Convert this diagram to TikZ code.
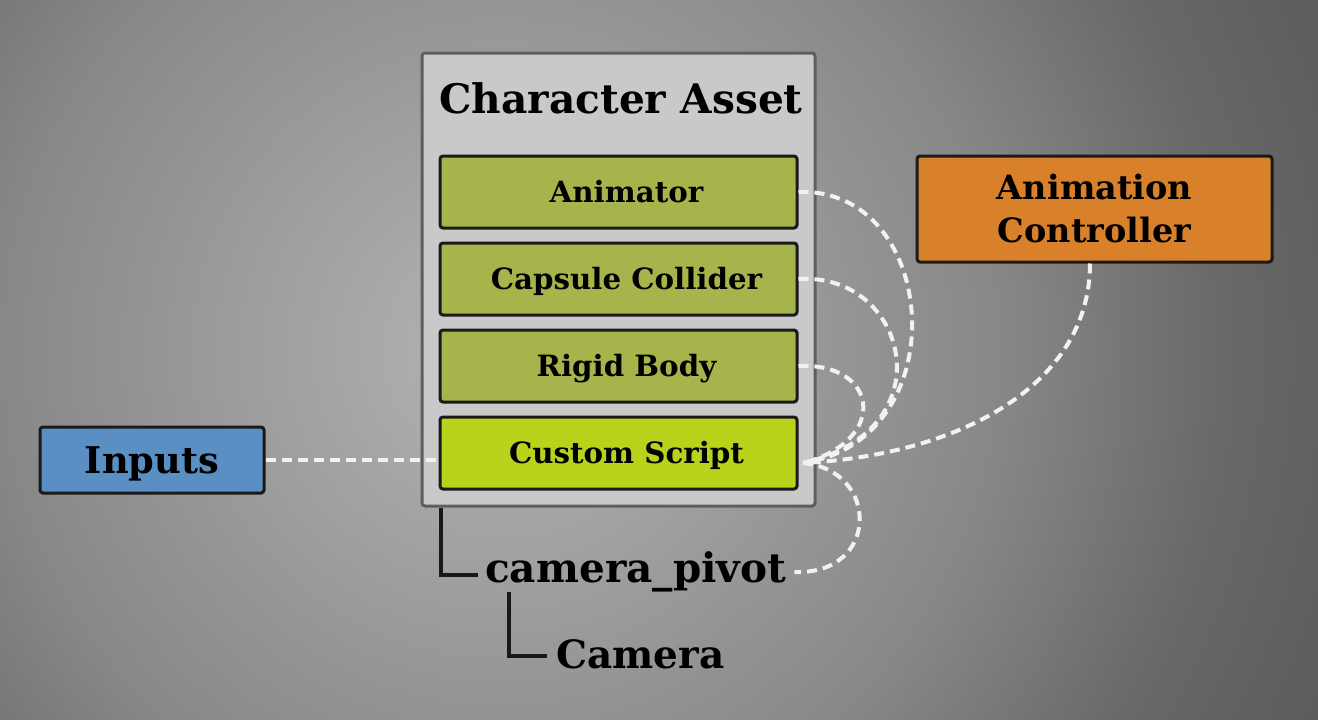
\documentclass[tikz,border=0pt]{standalone}
\usepackage{fontspec}
\setmainfont{DejaVu Serif}
\definecolor{bgc0}{HTML}{B4B4B4}
\definecolor{bgc1}{HTML}{A0A0A0}
\definecolor{bgc2}{HTML}{878787}
\definecolor{bgc3}{HTML}{686868}
\definecolor{bgc4}{HTML}{5C5C5C}
\definecolor{assetfill}{HTML}{C9C9C9}
\definecolor{assetborder}{HTML}{5E5E5E}
\definecolor{boxborder}{HTML}{1A1A1A}
\definecolor{olivefill}{HTML}{A7B44B}
\definecolor{limefill}{HTML}{B9D21B}
\definecolor{orangefill}{HTML}{D9812A}
\definecolor{bluefill}{HTML}{5A8FC3}
\definecolor{dashcol}{HTML}{F2F2F2}
\pgfdeclareradialshading{bgshade}{\pgfpoint{0bp}{0bp}}{color(0bp)=(bgc0); color(6.2bp)=(bgc1); color(14bp)=(bgc2); color(20.2bp)=(bgc3); color(24.9bp)=(bgc4); color(50bp)=(bgc4)}
\begin{document}
\begin{tikzpicture}[x=1pt,y=-1pt,
  assetbox/.style={draw=assetborder, fill=assetfill, line width=3pt, rounded corners=3pt,
    minimum width=393pt, minimum height=453pt, inner sep=0pt},
  comp/.style={draw=boxborder, line width=3pt, rounded corners=3pt, minimum width=357pt,
    minimum height=72pt, inner sep=0pt, font=\fontsize{29.3}{32}\selectfont\bfseries,
    text height=21.4pt, text depth=0pt},
  titletext/.style={inner sep=0pt, font=\fontsize{40.7}{44}\selectfont\bfseries},
  treetext/.style={inner sep=0pt, font=\fontsize{40.6}{44}\selectfont\bfseries},
  link/.style={draw=dashcol, line width=4pt, dash pattern=on 10pt off 6pt},
  tree/.style={draw=black!90, line width=4pt}]
\useasboundingbox (0,0) rectangle (1318,720);
\begin{scope}
  \clip (0,0) rectangle (1318,720);
  \shade[shading=bgshade] (-400,-550) rectangle (1400,1250);
\end{scope}

% container
\node[assetbox] (asset) at (618.5,279.5) {};
\node[titletext, anchor=base] (title) at (621,113) {Character Asset};

\node[comp, fill=olivefill] (anim)  at (618.5,192) {\hspace*{16pt}Animator};
\node[comp, fill=olivefill] (caps)  at (618.5,279) {\hspace*{16pt}Capsule Collider};
\node[comp, fill=olivefill] (rigid) at (618.5,366) {\hspace*{16pt}Rigid Body};
\node[comp, fill=limefill]  (cs)    at (618.5,453) {\hspace*{16pt}Custom Script};

% side boxes
\node[draw=boxborder, fill=orangefill, line width=3pt, rounded corners=3pt,
  minimum width=355pt, minimum height=106pt, inner sep=0pt, align=center,
  font=\fontsize{33.5}{43}\selectfont\bfseries] (ctrl) at (1094.5,209) {Animation\\Controller};
\node[draw=boxborder, fill=bluefill, line width=3pt, rounded corners=3pt,
  minimum width=224pt, minimum height=66pt, inner sep=0pt,
  font=\fontsize{36.8}{38}\selectfont\bfseries, text height=26.8pt, text depth=0pt] (inputs) at (152,460) {Inputs};

% hierarchy labels
\node[treetext, anchor=base west] (pivot) at (485,582) {camera\_pivot};
\node[treetext, anchor=base west, font=\fontsize{39}{42}\selectfont\bfseries] (camera) at (556,668) {Camera};

% tree lines
\coordinate (t1) at (441,575);
\coordinate (t2) at (509,656);
\draw[tree] (t1 |- asset.south) -- (t1) -- ([xshift=-7pt]pivot.west |- t1);
\draw[tree] (t2 |- pivot.south) -- (t2) -- ([xshift=-9pt]camera.west |- t2);

% dashed links
\coordinate (hub) at (803,463);
\draw[link] (inputs.east) -- (inputs.east -| cs.west);
\draw[link] (anim.east) .. controls (940,187) and (958,440) .. (hub);
\draw[link] (caps.east) .. controls (908,272) and (948,430) .. (hub);
\draw[link] (rigid.east) .. controls (878,362) and (890,440) .. (hub);
\draw[link] (ctrl.south -| 1090,0) .. controls (1090,385) and (960,455) .. (hub);
\draw[link] (hub) .. controls (880,470) and (880,575) .. ([xshift=8pt]pivot.east |- 0,572);
\end{tikzpicture}
\end{document}
